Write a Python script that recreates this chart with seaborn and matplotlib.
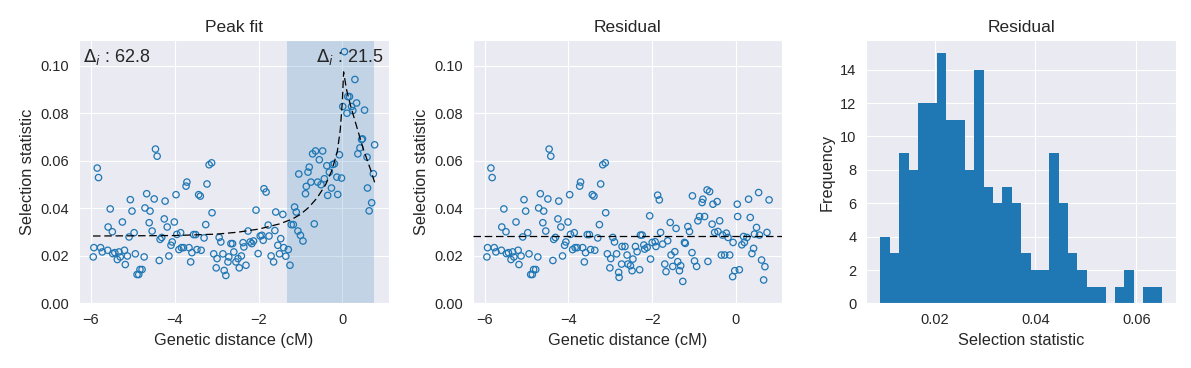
import numpy as np
import pandas as pd
import matplotlib
matplotlib.use("Agg")
import matplotlib.pyplot as plt
import matplotlib.ticker as mticker
import seaborn as sns

# --- data ------------------------------------------------------------
# flank points (x < -2.83): identical in peak-fit and residual panels
flank_pos = [-5.945, -5.93, -5.85, -5.82, -5.77, -5.73, -5.60, -5.59, -5.54, -5.49,
             -5.48, -5.43, -5.37, -5.33, -5.30, -5.25, -5.20, -5.18, -5.13, -5.09,
             -5.06, -5.02, -4.97, -4.94, -4.90, -4.86, -4.83, -4.78, -4.73, -4.71,
             -4.67, -4.61, -4.59, -4.54, -4.49, -4.46, -4.42, -4.37, -4.35, -4.31,
             -4.25, -4.23, -4.18, -4.14, -4.09, -4.06, -4.01, -3.97, -3.95, -3.90,
             -3.86, -3.84, -3.79, -3.73, -3.71, -3.66, -3.62, -3.59, -3.55, -3.50,
             -3.47, -3.43, -3.39, -3.37, -3.30, -3.26, -3.23, -3.18, -3.12, -3.11,
             -3.07, -3.01, -2.99, -2.94, -2.90, -2.85]
flank_stat = [0.0196, 0.0235, 0.0570, 0.0530, 0.0235, 0.0217, 0.0224, 0.0322, 0.0398, 0.0302,
              0.0210, 0.0214, 0.0185, 0.0217, 0.0196, 0.0343, 0.0224, 0.0164, 0.0200, 0.0280,
              0.0437, 0.0389, 0.0298, 0.0209, 0.0122, 0.0122, 0.0143, 0.0143, 0.0196, 0.0402,
              0.0462, 0.0340, 0.0389, 0.0305, 0.0440, 0.0650, 0.0620, 0.0181, 0.0270, 0.0278,
              0.0356, 0.0431, 0.0322, 0.0200, 0.0245, 0.0259, 0.0343, 0.0458, 0.0291, 0.0227,
              0.0298, 0.0235, 0.0235, 0.0494, 0.0511, 0.0235, 0.0175, 0.0214, 0.0290, 0.0290,
              0.0227, 0.0458, 0.0452, 0.0224, 0.0276, 0.0332, 0.0503, 0.0584, 0.0592, 0.0382,
              0.0209, 0.0150, 0.0189, 0.0278, 0.0259, 0.0209]

# core points, as seen in the peak-fit panel
core_pos = [-2.82, -2.78, -2.73, -2.71, -2.66, -2.62, -2.59, -2.54, -2.49, -2.46,
            -2.41, -2.37, -2.35, -2.30, -2.25, -2.20, -2.16, -2.12, -2.06, -2.01,
            -1.96, -1.92, -1.89, -1.87, -1.82, -1.77, -1.75, -1.70, -1.64, -1.61,
            -1.59, -1.54, -1.50, -1.47, -1.42, -1.40, -1.35, -1.29, -1.25,
            -1.22, -1.17, -1.14, -1.10, -1.06, -1.04, -1.00, -0.94, -0.88, -0.86,
            -0.82, -0.79, -0.75, -0.71, -0.67, -0.64, -0.59, -0.55, -0.51, -0.47,
            -0.43, -0.37, -0.35, -0.31, -0.26, -0.23, -0.19, -0.13, -0.11, -0.07,
            -0.02, 0.01, 0.05, 0.11, 0.13, 0.17, 0.22, 0.25, 0.30, 0.34,
            0.37, 0.42, 0.46, 0.48, 0.53, 0.59, 0.60, 0.64, 0.70, 0.74, 0.77]
core_stat = [0.0139, 0.0118, 0.0175, 0.0196, 0.0252, 0.0252, 0.0217, 0.0175, 0.0189, 0.0150,
             0.0200, 0.0256, 0.0238, 0.0161, 0.0305, 0.0259, 0.0252, 0.0263, 0.0393, 0.0210,
             0.0284, 0.0287, 0.0266, 0.0483, 0.0469, 0.0330, 0.0284, 0.0200, 0.0175, 0.0307,
             0.0385, 0.0245, 0.0209, 0.0273, 0.0375, 0.0235, 0.0199, 0.0227, 0.0161,
             0.0332, 0.0332, 0.0406, 0.0385, 0.0305, 0.0545, 0.0287, 0.0263, 0.0462, 0.0493,
             0.0553, 0.0574, 0.0511, 0.0630, 0.0335, 0.0642, 0.0511, 0.0605, 0.0500, 0.0642,
             0.0525, 0.0580, 0.0455, 0.0553, 0.0486, 0.0585, 0.0588, 0.0532, 0.0459, 0.0626,
             0.0528, 0.0829, 0.1060, 0.0801, 0.0871, 0.0871, 0.0829, 0.0812, 0.0943, 0.0844,
             0.0630, 0.0655, 0.0690, 0.0693, 0.0814, 0.0616, 0.0486, 0.0390, 0.0424, 0.0546, 0.0668]

# core points, as seen in the residual panel
core_resid_pos = [-2.80, -2.79, -2.73, -2.72, -2.65, -2.60, -2.58, -2.52, -2.48, -2.46,
                  -2.40, -2.36, -2.30, -2.28, -2.24, -2.20, -2.18, -2.12, -2.06, -2.04,
                  -2.00, -1.93, -1.91, -1.87, -1.83, -1.80, -1.75, -1.70, -1.67, -1.63,
                  -1.57, -1.55, -1.51, -1.46, -1.43, -1.39, -1.35, -1.32, -1.27,
                  -1.23, -1.21, -1.15, -1.11, -1.05, -1.04, -0.99, -0.94, -0.91, -0.87,
                  -0.81, -0.79, -0.75, -0.69, -0.67, -0.63, -0.57, -0.55, -0.51, -0.45,
                  -0.43, -0.39, -0.35, -0.32, -0.27, -0.23, -0.19, -0.15, -0.08, -0.07,
                  -0.03, 0.03, 0.04, 0.08, 0.14, 0.18, 0.20, 0.26, 0.30, 0.34,
                  0.38, 0.42, 0.44, 0.49, 0.54, 0.56, 0.61, 0.66, 0.69, 0.74, 0.79]
core_resid = [0.0131, 0.0110, 0.0166, 0.0240, 0.0240, 0.0204, 0.0166, 0.0159, 0.0138, 0.0187,
              0.0240, 0.0218, 0.0142, 0.0288, 0.0288, 0.0246, 0.0229, 0.0236, 0.0369, 0.0187,
              0.0257, 0.0260, 0.0240, 0.0456, 0.0436, 0.0299, 0.0250, 0.0166, 0.0134, 0.0264,
              0.0341, 0.0204, 0.0156, 0.0218, 0.0316, 0.0176, 0.0138, 0.0159, 0.0093,
              0.0257, 0.0253, 0.0324, 0.0303, 0.0214, 0.0453, 0.0179, 0.0156, 0.0348, 0.0366,
              0.0425, 0.0439, 0.0366, 0.0478, 0.0177, 0.0471, 0.0334, 0.0418, 0.0299, 0.0429,
              0.0303, 0.0348, 0.0204, 0.0288, 0.0204, 0.0296, 0.0278, 0.0204, 0.0113, 0.0257,
              0.0138, 0.0418, 0.0366, 0.0142, 0.0247, 0.0282, 0.0257, 0.0278, 0.0439, 0.0362,
              0.0210, 0.0232, 0.0292, 0.0320, 0.0467, 0.0288, 0.0183, 0.0099, 0.0155, 0.0299, 0.0436]

# fitted peak curve
fit_pos = [-5.95, -4.0, -3.0, -2.5, -2.0, -1.5, -1.2, -1.0, -0.8, -0.6, -0.4, -0.25,
           -0.12, -0.05, 0.0, 0.03, 0.1, 0.2, 0.3, 0.4, 0.5, 0.6, 0.7, 0.77]
fit_val = [0.0284, 0.0286, 0.0292, 0.0300, 0.0313, 0.0335, 0.0355, 0.0375, 0.0405, 0.0445,
           0.0500, 0.0560, 0.0640, 0.0730, 0.0850, 0.0975, 0.0900, 0.0830, 0.0770, 0.0710,
           0.0650, 0.0600, 0.0550, 0.0510]
baseline = 0.0282
peak_window = (-1.31, 0.76)
delta_left, delta_peak = 62.8, 21.5

# residual histogram (30 bins)
hist_counts = [4, 3, 9, 8, 12, 12, 15, 11, 11, 8, 14, 7, 6, 7, 6,
               3, 2, 2, 9, 6, 3, 2, 1, 1, 0, 1, 2, 0, 1, 1]
hist_range = (0.00923, 0.0651)

# --- plotting ---------------------------------------------------------
sns.set_style("darkgrid")
plt.rcParams["font.family"] = ["Liberation Sans", "DejaVu Sans"]
plt.rcParams.update({"xtick.labelsize": 10.5, "ytick.labelsize": 10.5,
                     "axes.labelsize": 11.7, "axes.titlesize": 12.5})

blue = "#1f77b4"
dash = (0, (6, 3))

fig, axes = plt.subplots(1, 3, figsize=(11.91, 3.68), dpi=100)
fig.subplots_adjust(left=0.0663, right=0.9874, bottom=0.1753, top=0.89, wspace=0.271)

pos_all = flank_pos + core_pos
stat_all = flank_stat + core_stat
rpos_all = flank_pos + core_resid_pos
resid_all = flank_stat + core_resid

# Peak fit
ax = axes[0]
ax.axvspan(*peak_window, color=blue, alpha=0.2, lw=0)
sns.scatterplot(x=pos_all, y=stat_all, ax=ax, s=21, facecolors="none",
                edgecolors=blue, linewidths=0.9, zorder=3)
sns.lineplot(x=fit_pos, y=fit_val, ax=ax, color="k", lw=0.9, linestyle=dash,
             sort=False, zorder=4)
ax.set_ylim(0, None)
ymax = ax.get_ylim()[1]
ax.text(0.012, 0.975, rf"$\Delta_i$ : {delta_left}", transform=ax.transAxes,
        ha="left", va="top", fontsize=13, color=".15")
ax.text(0.985, 0.975, rf"$\Delta_i$ : {delta_peak}", transform=ax.transAxes,
        ha="right", va="top", fontsize=13, color=".15")
ax.set_title("Peak fit")
ax.set_xlabel("Genetic distance (cM)")
ax.set_ylabel("Selection statistic")

# Residual scatter
ax = axes[1]
sns.scatterplot(x=rpos_all, y=resid_all, ax=ax, s=21, facecolors="none",
                edgecolors=blue, linewidths=0.9, zorder=3)
ax.axhline(baseline, color="k", lw=0.9, linestyle=dash, zorder=4)
ax.set_xlim(axes[0].get_xlim())
ax.set_ylim(0, ymax)
ax.set_title("Residual")
ax.set_xlabel("Genetic distance (cM)")
ax.set_ylabel("Selection statistic")

# Residual histogram
ax = axes[2]
edges = np.linspace(hist_range[0], hist_range[1], len(hist_counts) + 1)
hist_df = pd.DataFrame({"stat": (edges[:-1] + edges[1:]) / 2, "count": hist_counts})
sns.histplot(data=hist_df, x="stat", weights="count", bins=len(hist_counts),
             binrange=hist_range, ax=ax, color=blue, alpha=1, linewidth=0)
ax.xaxis.set_major_locator(mticker.MultipleLocator(0.02))
ax.set_title("Residual")
ax.set_xlabel("Selection statistic")
ax.set_ylabel("Frequency")

fig.savefig("out.png", dpi=100)
